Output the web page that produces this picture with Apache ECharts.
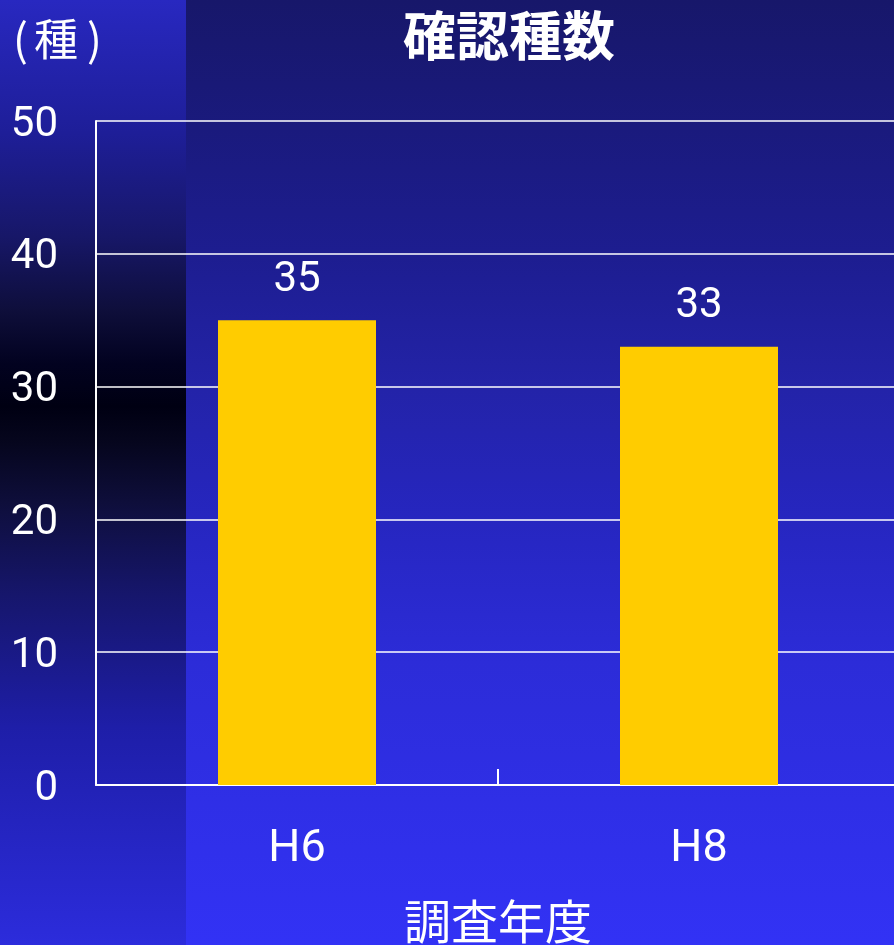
<!DOCTYPE html>
<html>
<head>
<meta charset="utf-8">
<script src="https://cdn.jsdelivr.net/npm/echarts@6/dist/echarts.min.js"></script>
<style>
  html, body { margin: 0; padding: 0; }
  #chart { width: 894px; height: 945px; }
</style>
</head>
<body>
<div id="chart"></div>
<script>
// data
const years = ["H6", "H8"];
const speciesCount = [35, 33];
const yTicks = [0, 10, 20, 30, 40, 50];

const numFont = "Roboto, 'Noto Sans', sans-serif";
const jpFont = "'Noto Sans CJK JP', sans-serif";

const chart = echarts.init(document.getElementById("chart"));

const option = {
  backgroundColor: "#1a1a80",
  animation: false,
  title: {
    text: "確認種数",
    left: 398,
    top: 4,
    textStyle: { color: "#fff", fontSize: 53, fontWeight: "bold", fontFamily: jpFont }
  },
  graphic: [
    {
      type: "rect",
      z: -10,
      shape: { x: 0, y: 0, width: 894, height: 945 },
      style: {
        fill: {
          type: "linear", x: 0, y: 0, x2: 0, y2: 1,
          colorStops: [
            { offset: 0, color: "#17176a" },
            { offset: 0.27, color: "#1d1d90" },
            { offset: 0.41, color: "#2323a8" },
            { offset: 0.55, color: "#2626c0" },
            { offset: 0.7, color: "#2c2cd8" },
            { offset: 1, color: "#3232f5" }
          ]
        }
      }
    },
    {
      type: "rect",
      z: -9,
      shape: { x: 0, y: 0, width: 186, height: 945 },
      style: {
        fill: {
          type: "linear", x: 0, y: 0, x2: 0, y2: 1,
          colorStops: [
            { offset: 0, color: "#2828c0" },
            { offset: 0.14, color: "#1e1e98" },
            { offset: 0.25, color: "#171768" },
            { offset: 0.33, color: "#0e0e3a" },
            { offset: 0.385, color: "#020220" },
            { offset: 0.43, color: "#000012" },
            { offset: 0.47, color: "#06061e" },
            { offset: 0.53, color: "#0e0e3a" },
            { offset: 0.63, color: "#16166c" },
            { offset: 0.77, color: "#1e1ea8" },
            { offset: 1, color: "#2c2cdc" }
          ]
        }
      }
    },
    { type: "text", left: 13, top: 17, style: { text: "(", fill: "#fff", fontSize: 44, fontFamily: jpFont } },
    { type: "text", left: 34, top: 17, style: { text: "種", fill: "#fff", fontSize: 44, fontFamily: jpFont } },
    { type: "text", left: 87, top: 17, style: { text: ")", fill: "#fff", fontSize: 44, fontFamily: jpFont } }
  ],
  grid: { left: 96, width: 804, top: 121, bottom: 160, outerBoundsMode: "none", containLabel: false },
  xAxis: {
    type: "category",
    data: years,
    name: "調査年度",
    nameLocation: "middle",
    nameGap: 113,
    nameTextStyle: { color: "#fff", fontSize: 47, fontFamily: jpFont },
    axisLine: { lineStyle: { color: "#fff", width: 2 } },
    axisTick: { show: true, inside: true, length: 16, lineStyle: { color: "#fff", width: 2 } },
    axisLabel: { color: "#fff", fontSize: 45, margin: 42, fontFamily: numFont }
  },
  yAxis: {
    type: "value",
    min: yTicks[0],
    max: yTicks[yTicks.length - 1],
    interval: yTicks[1] - yTicks[0],
    axisLine: { show: true, lineStyle: { color: "#fff", width: 2 } },
    axisTick: { show: false },
    splitLine: { lineStyle: { color: "#fff", width: 1.5 } },
    axisLabel: {
      color: "#fff", fontSize: 42, margin: 38, fontFamily: numFont,
      verticalAlign: "top", lineHeight: 8
    }
  },
  series: [
    {
      type: "bar",
      data: speciesCount,
      barWidth: 158,
      itemStyle: { color: "#ffcc00" },
      label: {
        show: true,
        position: "top",
        distance: 19,
        color: "#fff",
        fontSize: 42,
        fontFamily: numFont
      }
    }
  ]
};

chart.setOption(option);
</script>
</body>
</html>
